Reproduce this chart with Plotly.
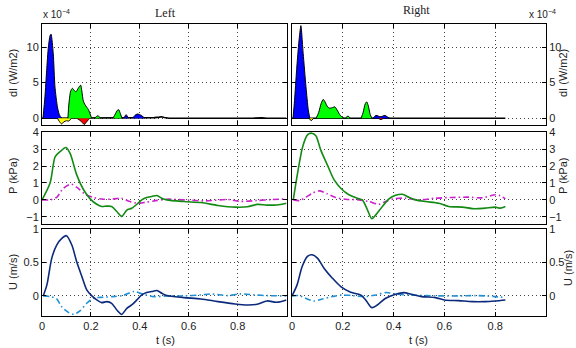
import plotly.graph_objects as go

# ---------------- DATA ----------------
# Left: dI lobes (t in s, dI in 1e-4 W/m2)
L_blue1_t = [0.004, 0.012, 0.019, 0.026, 0.033, 0.037, 0.046, 0.053, 0.063, 0.070, 0.076, 0.082]
L_blue1_v = [0, 3.0, 6.7, 10.0, 11.6, 11.8, 9.1, 4.4, 1.6, 0.6, 0.2, 0]
L_yel_t = [0.063, 0.070, 0.080, 0.090, 0.100, 0.110, 0.120]
L_yel_v = [0, -0.4, -0.8, -0.5, -0.35, -0.4, 0]
L_green1_t = [0.106, 0.110, 0.117, 0.124, 0.132, 0.139, 0.148, 0.158, 0.163, 0.169, 0.176, 0.184, 0.190, 0.203]
L_green1_v = [0, 2.0, 3.8, 4.2, 3.9, 3.7, 4.2, 4.65, 3.8, 2.4, 1.9, 1.5, 1.2, 0]
L_red_t = [0.142, 0.155, 0.165, 0.173, 0.180, 0.190, 0.195]
L_red_v = [0, -0.3, -0.6, -0.9, -0.6, -0.2, 0]
L_green2_t = [0.215, 0.228, 0.240]
L_green2_v = [0, 0.35, 0]
L_green3_t = [0.290, 0.300, 0.308, 0.314, 0.320, 0.327]
L_green3_v = [0, 0.6, 1.1, 1.2, 0.7, 0]
L_blue2_t = [0.335, 0.344, 0.353]
L_blue2_v = [0, 0.5, 0]
L_blue3_t = [0.370, 0.380, 0.390, 0.400, 0.410, 0.420]
L_blue3_v = [0, 0.4, 0.6, 0.5, 0.3, 0]
L_tail_t = [0.0, 0.42, 0.44, 0.46, 0.48, 0.49, 0.50, 0.52, 0.86, 0.88, 0.89, 0.90, 0.92, 1.0]
L_tail_v = [0, 0, 0.05, 0.08, 0.15, 0.2, 0.1, 0, 0, 0.05, 0.1, 0.05, 0, 0]

# Right: dI lobes
R_blue1_t = [0.004, 0.010, 0.018, 0.024, 0.029, 0.035, 0.044, 0.055, 0.064, 0.070]
R_blue1_v = [0, 2.5, 6.7, 9.5, 11.4, 13.0, 9.1, 4.4, 1.2, 0]
R_yel_t = [0.068, 0.075, 0.085]
R_yel_v = [0, -0.35, 0]
R_green1_t = [0.095, 0.105, 0.115, 0.123, 0.130, 0.140, 0.149, 0.160, 0.169, 0.180, 0.190, 0.200, 0.205]
R_green1_v = [0, 0.8, 2.1, 2.65, 2.3, 1.6, 1.4, 1.5, 1.6, 1.0, 0.4, 0.1, 0]
R_green2_t = [0.210, 0.220, 0.230]
R_green2_v = [0, 0.3, 0]
R_green3_t = [0.272, 0.280, 0.288, 0.294, 0.300, 0.308, 0.315]
R_green3_v = [0, 0.8, 2.0, 2.3, 1.8, 0.5, 0]
R_blue2_t = [0.320, 0.330, 0.340, 0.350, 0.360, 0.366, 0.375, 0.385]
R_blue2_v = [0, 0.4, 0.3, 0.2, 0.35, 0.4, 0.2, 0]
R_red_t = [0.340, 0.350, 0.360]
R_red_v = [0, -0.2, 0]
R_tail_t = [0.0, 0.39, 0.42, 0.45, 0.50, 0.55, 0.60, 0.65, 0.70, 0.75, 0.80, 0.84]
R_tail_v = [0, 0, 0.05, 0.0, 0.06, 0.02, 0.05, 0.03, 0.05, 0.02, 0.04, 0]

# Left: pressure (kPa)
LP_t = [0.0, 0.033, 0.054, 0.074, 0.098, 0.115, 0.142, 0.170, 0.197, 0.224, 0.244, 0.265, 0.285, 0.306,
        0.326, 0.347, 0.367, 0.388, 0.408, 0.428, 0.449, 0.470, 0.490, 0.510, 0.580, 0.650, 0.720, 0.790,
        0.840, 0.880, 0.920, 0.960, 1.0]
LP_p = [0.0, 1.0, 2.56, 2.86, 3.1, 2.75, 1.48, 0.6, 0.06, -0.26, -0.39, -0.37, -0.39, -0.69,
        -0.98, -0.61, -0.5, -0.26, 0.0, 0.14, 0.2, 0.26, 0.1, 0.0, -0.1, -0.16, -0.33, -0.43,
        -0.41, -0.27, -0.31, -0.3, -0.2]
LP2_t = [0.0, 0.033, 0.060, 0.087, 0.120, 0.148, 0.175, 0.208, 0.250, 0.290, 0.325, 0.360, 0.390,
         0.420, 0.460, 0.510, 0.580, 0.670, 0.760, 0.810, 0.880, 0.940, 1.0]
LP2_p = [0.0, 0.0, 0.15, 0.68, 0.93, 0.68, 0.35, 0.15, 0.04, 0.05, 0.1, -0.1, -0.2,
         -0.15, -0.06, 0.04, 0.0, -0.06, 0.02, -0.09, -0.04, 0.02, 0.05]

# Right: pressure (kPa)
RP_t = [0.005, 0.022, 0.042, 0.061, 0.078, 0.094, 0.113, 0.139, 0.166, 0.192, 0.224, 0.257, 0.277,
        0.297, 0.314, 0.330, 0.356, 0.382, 0.408, 0.434, 0.460, 0.486, 0.526, 0.578, 0.617, 0.670,
        0.720, 0.760, 0.800, 0.820, 0.840]
RP_p = [0.0, 1.58, 3.15, 3.85, 3.95, 3.8, 2.96, 2.07, 1.18, 0.69, 0.3, 0.1, 0.0,
        -0.59, -1.12, -0.89, -0.39, 0.06, 0.27, 0.33, 0.16, 0.0, -0.1, -0.2, -0.39, -0.43,
        -0.53, -0.49, -0.43, -0.49, -0.39]
RP2_t = [0.005, 0.030, 0.055, 0.080, 0.107, 0.139, 0.172, 0.211, 0.264, 0.303, 0.342, 0.368, 0.408,
         0.447, 0.500, 0.565, 0.630, 0.695, 0.748, 0.800, 0.820, 0.840]
RP2_p = [0.0, -0.04, 0.16, 0.39, 0.53, 0.36, 0.14, 0.04, 0.0, -0.1, -0.26, -0.1, 0.08,
         0.1, 0.0, 0.1, 0.14, 0.16, 0.12, 0.3, 0.24, 0.06]

# Left: velocity (m/s)
LU_t = [0.005, 0.02, 0.04, 0.06, 0.08, 0.10, 0.122, 0.142, 0.163, 0.183, 0.204, 0.224, 0.244, 0.265,
        0.285, 0.306, 0.326, 0.347, 0.367, 0.388, 0.408, 0.428, 0.449, 0.470, 0.490, 0.510, 0.580,
        0.650, 0.720, 0.790, 0.840, 0.880, 0.920, 0.960, 1.0]
LU_u = [0.0, 0.165, 0.565, 0.76, 0.855, 0.9, 0.76, 0.51, 0.29, 0.09, 0.0, -0.06, -0.1, -0.085,
        -0.11, -0.21, -0.275, -0.185, -0.135, -0.06, 0.015, 0.05, 0.065, 0.08, 0.04, 0.005, -0.025,
        -0.045, -0.085, -0.12, -0.135, -0.125, -0.075, -0.095, -0.06]
LU2_t = [0.005, 0.033, 0.06, 0.08, 0.108, 0.13, 0.155, 0.183, 0.21, 0.25, 0.29, 0.33, 0.375, 0.415,
         0.457, 0.51, 0.58, 0.65, 0.69, 0.76, 0.81, 0.87, 0.92, 1.0]
LU2_u = [0.0, -0.01, -0.045, -0.16, -0.245, -0.275, -0.225, -0.11, -0.035, -0.02, -0.01, 0.005, 0.065, 0.025,
         -0.01, 0.0, 0.0, 0.015, 0.03, 0.005, 0.03, 0.015, 0.005, 0.0]

# Right: velocity (m/s)
RU_t = [0.0, 0.02, 0.04, 0.061, 0.078, 0.10, 0.126, 0.159, 0.192, 0.231, 0.27, 0.29, 0.314, 0.336,
        0.369, 0.408, 0.44, 0.47, 0.51, 0.565, 0.60, 0.655, 0.71, 0.76, 0.80, 0.84]
RU_u = [0.0, 0.165, 0.44, 0.59, 0.615, 0.565, 0.415, 0.265, 0.14, 0.055, 0.015, -0.06, -0.175, -0.135,
        -0.035, 0.025, 0.05, 0.025, -0.01, -0.025, -0.06, -0.07, -0.085, -0.085, -0.075, -0.06]
RU2_t = [0.0, 0.027, 0.053, 0.085, 0.12, 0.159, 0.198, 0.237, 0.29, 0.33, 0.37, 0.408, 0.46, 0.525,
         0.59, 0.655, 0.72, 0.76, 0.80, 0.84]
RU2_u = [0.0, 0.005, -0.035, -0.075, -0.045, -0.01, 0.015, 0.005, -0.01, 0.015, 0.05, 0.03, 0.015, 0.005,
         0.0, 0.0, 0.005, 0.0, -0.01, -0.025]

X_TICKS = [0, 0.2, 0.4, 0.6, 0.8, 1.0]
X_TICKTEXT = ["0", "0.2", "0.4", "0.6", "0.8", ""]
DI_TICKS = [0, 5, 10]
P_TICKS = [-1, 0, 1, 2, 3, 4]
U_TICKS = [0, 0.5, 1]
U_TICKTEXT = ["0", "0.5", "1"]

# ---------------- FIGURE ----------------
W, H = 576, 348
def px(x): return x / W
def py(y): return 1 - y / H

BLUE, GREEN, YEL, RED = "#0000ff", "#00ff00", "#ffff00", "#ff0000"
PCOL, PCOL2 = "#138a13", "#cc22cc"
UCOL, UCOL2 = "#0c2a7c", "#1f8fd6"
DASHDOT = "6px,3px,1.5px,3px"

fig = go.Figure()

def lobe(t, v, color, xa, ya):
    fig.add_trace(go.Scatter(x=t, y=v, xaxis=xa, yaxis=ya, mode="lines", fill="toself",
                             fillcolor=color, line=dict(color="black", width=1, shape="spline", smoothing=0.6),
                             hoverinfo="skip", showlegend=False))

def line(t, v, color, xa, ya, width=1.6, dash="solid", shape="spline"):
    fig.add_trace(go.Scatter(x=t, y=v, xaxis=xa, yaxis=ya, mode="lines",
                             line=dict(color=color, width=width, dash=dash, shape=shape, smoothing=0.8),
                             hoverinfo="skip", showlegend=False))

# left dI
line(L_tail_t, L_tail_v, "black", "x", "y", width=1.6, shape="linear")
lobe(L_blue1_t, L_blue1_v, BLUE, "x", "y")
lobe(L_yel_t, L_yel_v, YEL, "x", "y")
lobe(L_red_t, L_red_v, RED, "x", "y")
lobe(L_green1_t, L_green1_v, GREEN, "x", "y")
lobe(L_green2_t, L_green2_v, GREEN, "x", "y")
lobe(L_green3_t, L_green3_v, GREEN, "x", "y")
lobe(L_blue2_t, L_blue2_v, BLUE, "x", "y")
lobe(L_blue3_t, L_blue3_v, BLUE, "x", "y")
# left P
line(LP2_t, LP2_p, PCOL2, "x2", "y2", dash=DASHDOT)
line(LP_t, LP_p, PCOL, "x2", "y2")
# left U
line(LU2_t, LU2_u, UCOL2, "x3", "y3", dash=DASHDOT)
line(LU_t, LU_u, UCOL, "x3", "y3")

# right dI
line(R_tail_t, R_tail_v, "black", "x4", "y4", width=1.6, shape="linear")
lobe(R_blue1_t, R_blue1_v, BLUE, "x4", "y4")
lobe(R_yel_t, R_yel_v, YEL, "x4", "y4")
lobe(R_green1_t, R_green1_v, GREEN, "x4", "y4")
lobe(R_green2_t, R_green2_v, GREEN, "x4", "y4")
lobe(R_green3_t, R_green3_v, GREEN, "x4", "y4")
lobe(R_blue2_t, R_blue2_v, BLUE, "x4", "y4")
lobe(R_red_t, R_red_v, RED, "x4", "y4")
# right P
line(RP2_t, RP2_p, PCOL2, "x5", "y5", dash=DASHDOT)
line(RP_t, RP_p, PCOL, "x5", "y5")
# right U
line(RU2_t, RU2_u, UCOL2, "x6", "y6", dash=DASHDOT)
line(RU_t, RU_u, UCOL, "x6", "y6")

TICKFONT = dict(family="Liberation Sans, Arial, sans-serif", size=11, color="#222")
xL = [px(42), px(286.5)]
xR = [px(292), px(546)]
yD = [py(125), py(23.5)]
yP = [py(223.5), py(131.5)]
yU = [py(316), py(229)]

def xaxis(dom, anchor, show_labels):
    return dict(domain=dom, anchor=anchor, range=[0, 1], tickvals=X_TICKS, ticktext=X_TICKTEXT,
                showticklabels=show_labels, ticks="inside", ticklen=4, tickcolor="black",
                showline=True, linecolor="black", linewidth=1, mirror="ticks",
                showgrid=True, gridcolor="#444", griddash="1px,3px", gridwidth=1,
                zeroline=False, tickfont=TICKFONT, fixedrange=True, automargin=False)

def yaxis(dom, anchor, rng, tv, tt=None, side="left"):
    d = dict(domain=dom, anchor=anchor, range=rng, tickvals=tv, side=side,
             ticks="inside", ticklen=4, tickcolor="black",
             showline=True, linecolor="black", linewidth=1, mirror="ticks",
             showgrid=True, gridcolor="#444", griddash="1px,3px", gridwidth=1,
             zeroline=False, tickfont=TICKFONT, fixedrange=True, automargin=False)
    if tt is not None:
        d["ticktext"] = tt
    return d

fig.update_layout(
    template="none",
    width=W, height=H, margin=dict(l=0, r=0, t=0, b=0, pad=0, autoexpand=False),
    paper_bgcolor="white", plot_bgcolor="white", showlegend=False,
    xaxis=xaxis(xL, "y", False), yaxis=yaxis(yD, "x", [-0.95, 13.3], DI_TICKS),
    xaxis2=xaxis(xL, "y2", False), yaxis2=yaxis(yP, "x2", [-1.4, 4.05], P_TICKS),
    xaxis3=xaxis(xL, "y3", True), yaxis3=yaxis(yU, "x3", [-0.3, 1.0], U_TICKS, U_TICKTEXT),
    xaxis4=xaxis(xR, "y4", False), yaxis4=yaxis(yD, "x4", [-0.95, 13.3], DI_TICKS, side="right"),
    xaxis5=xaxis(xR, "y5", False), yaxis5=yaxis(yP, "x5", [-1.4, 4.05], P_TICKS, side="right"),
    xaxis6=xaxis(xR, "y6", True), yaxis6=yaxis(yU, "x6", [-0.3, 1.0], U_TICKS, U_TICKTEXT, side="right"),
)

LABFONT = dict(family="Liberation Sans, Arial, sans-serif", size=11, color="#222")
SERIF = dict(family="Liberation Serif, Times New Roman, serif", size=12, color="#222")
ann = []
def A(text, x, y, font=LABFONT, angle=0, xanchor="center"):
    ann.append(dict(text=text, x=px(x), y=py(y), xref="paper", yref="paper", showarrow=False,
                    font=font, textangle=angle, xanchor=xanchor, yanchor="middle"))

A("dI (W/m2)", 13, 73, angle=-90)
A("P (kPa)", 13, 176, angle=-90)
A("U (m/s)", 13, 272, angle=-90)
A("dI (W/m2)", 563, 73, angle=-90)
A("P (kPa)", 563, 176, angle=-90)
A("U (m/s)", 568, 268, angle=-90)
A("t (s)", 165, 340)
A("t (s)", 418, 340)
A("Left", 165, 13, font=SERIF)
A("Right", 416, 10, font=SERIF)
A("x 10<sup>−4</sup>", 41, 14, font=dict(family="Liberation Sans, Arial, sans-serif", size=10, color="#222"), xanchor="left")
A("x 10<sup>−4</sup>", 527, 14, font=dict(family="Liberation Sans, Arial, sans-serif", size=10, color="#222"), xanchor="left")
fig.update_layout(annotations=ann)

fig.write_html("out.html", config={"displayModeBar": False, "staticPlot": True},
               post_script="document.body.style.margin='0px';document.body.style.padding='0px';document.body.style.overflow='hidden';")
